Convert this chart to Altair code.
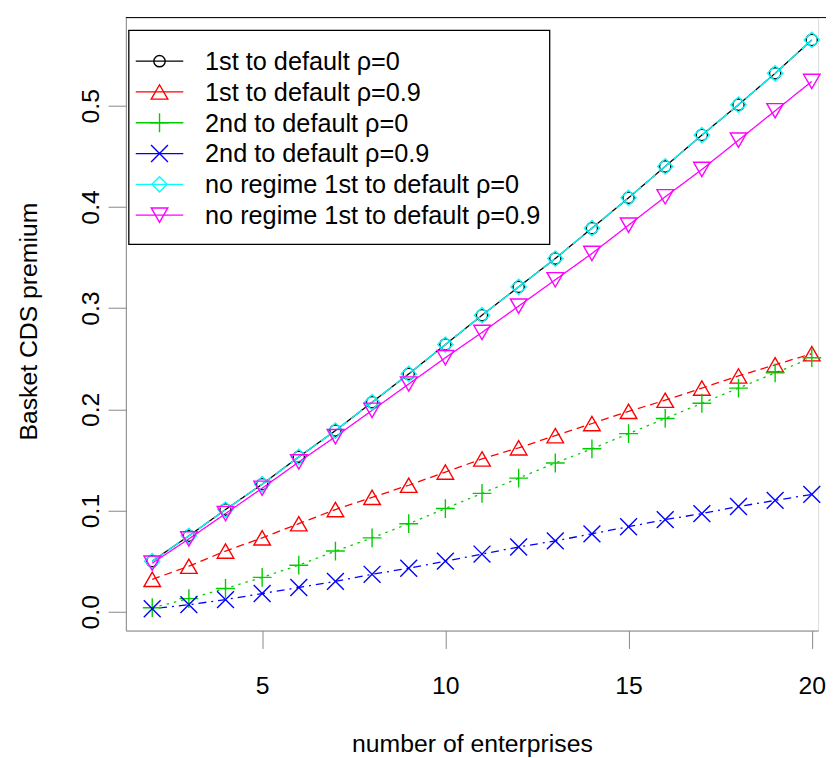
import altair as alt
import pandas as pd

# ---------------- data ----------------
n_enterprises = list(range(2, 21))

series_names = [
    "1st to default ρ=0",
    "1st to default ρ=0.9",
    "2nd to default ρ=0",
    "2nd to default ρ=0.9",
    "no regime 1st to default ρ=0",
    "no regime 1st to default ρ=0.9",
]

first_rho0 = [0.050, 0.075, 0.101, 0.126, 0.153, 0.179, 0.207, 0.235, 0.264, 0.293,
              0.321, 0.349, 0.379, 0.409, 0.440, 0.471, 0.501, 0.532, 0.565]
first_rho09 = [0.032, 0.045, 0.060, 0.073, 0.087, 0.101, 0.113, 0.125, 0.138, 0.151,
               0.162, 0.174, 0.186, 0.198, 0.209, 0.221, 0.233, 0.244, 0.255]
second_rho0 = [0.004, 0.013, 0.023, 0.034, 0.046, 0.060, 0.073, 0.087, 0.102, 0.117,
               0.132, 0.147, 0.161, 0.176, 0.191, 0.206, 0.221, 0.236, 0.251]
second_rho09 = [0.003, 0.007, 0.012, 0.018, 0.024, 0.030, 0.037, 0.043, 0.050, 0.057,
                0.064, 0.070, 0.077, 0.084, 0.091, 0.097, 0.104, 0.110, 0.116]
noreg_rho0 = [0.050, 0.075, 0.101, 0.126, 0.153, 0.179, 0.207, 0.235, 0.264, 0.293,
              0.321, 0.349, 0.379, 0.409, 0.440, 0.471, 0.501, 0.532, 0.565]
noreg_rho09 = [0.048, 0.072, 0.097, 0.122, 0.148, 0.173, 0.199, 0.225, 0.251, 0.276,
               0.302, 0.328, 0.354, 0.382, 0.410, 0.437, 0.466, 0.495, 0.524]

series_values = [first_rho0, first_rho09, second_rho0, second_rho09, noreg_rho0, noreg_rho09]

y_ticks = [0.0, 0.1, 0.2, 0.3, 0.4, 0.5]
x_ticks = [5, 10, 15, 20]

# ---------------- styles ----------------
colors = ["#000000", "#FF0000", "#00CD00", "#0000FF", "#00FFFF", "#FF00FF"]
dashes = [[1, 0], [8, 5], [2.5, 5], [2, 5, 8, 5], [14, 5], [1, 0]]
shapes = ["circle", "triangle-up", "M-1,0L1,0M0,-1L0,1", "M-1,-1L1,1M-1,1L1,-1",
          "diamond", "triangle-down"]
sizes = [130, 280, 360, 290, 240, 280]

W, H = 699, 619
FONT = "Liberation Sans"

rows = []
for name, vals in zip(series_names, series_values):
    for x, v in zip(n_enterprises, vals):
        rows.append({"n": x, "value": v, "series": name})
df = pd.DataFrame(rows)

leg = pd.DataFrame({"series": series_names, "row": list(range(len(series_names)))})

color_enc = alt.Color("series:N", scale=alt.Scale(domain=series_names, range=colors), legend=None)
dash_enc = alt.StrokeDash("series:N", scale=alt.Scale(domain=series_names, range=dashes), legend=None)
shape_enc = alt.Shape("series:N", scale=alt.Scale(domain=series_names, range=shapes), legend=None)
size_enc = alt.Size("series:N", scale=alt.Scale(type="ordinal", domain=series_names, range=sizes),
                    legend=None)

x_enc = alt.X("n:Q", scale=alt.Scale(domain=[1.28, 1.28 + W / 37.0], nice=False, zero=False),
              axis=alt.Axis(values=x_ticks, title="number of enterprises", grid=False,
                            tickSize=18, labelPadding=26, labelFontSize=25,
                            titleFontSize=25, titleFontWeight="normal",
                            titleY=122, titleBaseline="alphabetic"))
y_enc = alt.Y("value:Q", scale=alt.Scale(domain=[-0.0186, 0.5871], nice=False, zero=False),
              axis=alt.Axis(values=y_ticks, format=".1f", title="Basket CDS premium", grid=False,
                            tickSize=18, labelPadding=5, labelAngle=270, labelAlign="center",
                            labelBaseline="bottom", labelFontSize=25,
                            titleFontSize=25, titleFontWeight="normal",
                            titleX=-90, titleY=H / 2 - 3, titleBaseline="alphabetic",
                            titleAngle=270))

lines = alt.Chart(df).mark_line(strokeWidth=1.3).encode(
    x=x_enc, y=y_enc, color=color_enc, strokeDash=dash_enc, detail="series:N")
points = alt.Chart(df).mark_point(filled=False, strokeWidth=1.4, opacity=1).encode(
    x="n:Q", y="value:Q", color=color_enc, shape=shape_enc, size=size_enc)

one = pd.DataFrame({"a": [0]})
top_border = alt.Chart(one).mark_rule(color="black", strokeWidth=1).encode(
    x=alt.value(0), x2=alt.value(W + 8), y=alt.value(0))

leg_box = alt.Chart(one).mark_rect(fill="white", stroke="black", strokeWidth=1.3).encode(
    x=alt.value(3), x2=alt.value(428), y=alt.value(13), y2=alt.value(229))

leg_base = alt.Chart(leg).transform_calculate(ly="44 + 31.1 * datum.row")
ly = alt.Y("ly:Q", scale=None, axis=None)
leg_lines = leg_base.mark_rule(strokeWidth=1.3).encode(
    x=alt.value(10), x2=alt.value(58), y=ly, color=color_enc)
leg_points = leg_base.mark_point(filled=False, strokeWidth=1.4, opacity=1).encode(
    x=alt.value(34), y=ly, color=color_enc, shape=shape_enc, size=size_enc)
leg_text = leg_base.mark_text(align="left", baseline="middle", fontSize=25.5, font=FONT,
                              color="black", dy=1).encode(
    x=alt.value(80), y=ly, text="series:N")

chart = alt.layer(lines, points, top_border, leg_box, leg_lines, leg_points, leg_text).properties(
    width=W, height=H,
    padding={"left": 119, "top": 6, "right": 8, "bottom": 125},
    autosize="none",
).configure_view(stroke=None).configure_axis(
    domainColor="black", tickColor="black", labelColor="black", titleColor="black",
    labelFont=FONT, titleFont=FONT, domainWidth=1, tickWidth=1,
).configure(background="white")

chart.save("out.html", embed_options={"renderer": "svg", "actions": False})
